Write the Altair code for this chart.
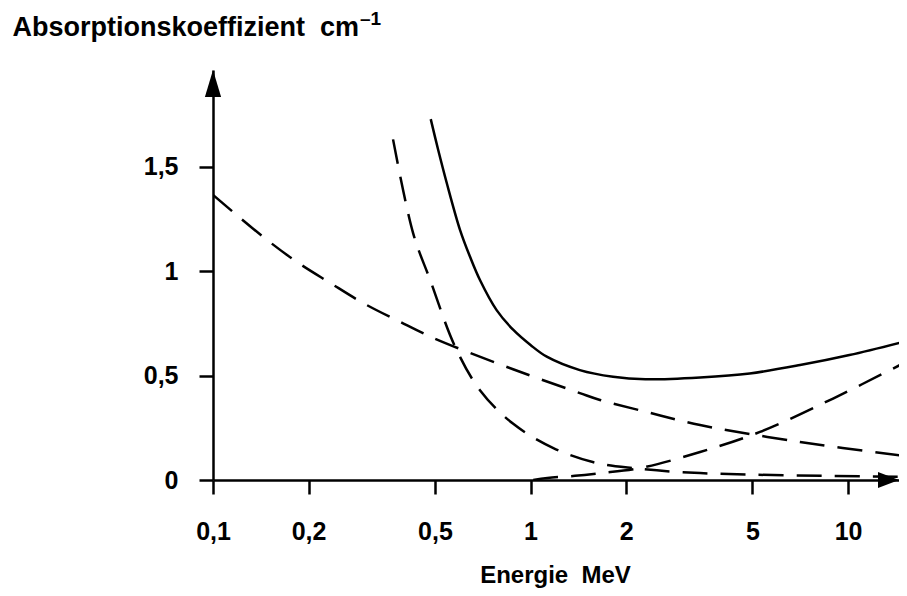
import altair as alt
import pandas as pd

# ---- tick values and labels ----
x_ticks = [0.1, 0.2, 0.5, 1, 2, 5, 10]
x_tick_labels = ["0,1", "0,2", "0,5", "1", "2", "5", "10"]
y_ticks = [0, 0.5, 1, 1.5]
y_tick_labels = ["0", "0,5", "1", "1,5"]

# ---- curves (energy in MeV, absorption coefficient in cm^-1) ----
compton_x = [0.1, 0.144, 0.184, 0.234, 0.297, 0.388, 0.494, 0.881, 1.43, 1.655, 2.33, 3.42, 7.06, 15.0]
compton_y = [1.364, 1.163, 1.043, 0.943, 0.847, 0.757, 0.68, 0.53, 0.416, 0.383, 0.325, 0.263, 0.182, 0.115]

photo_x = [0.369, 0.427, 0.483, 0.578, 0.693, 0.88, 1.18, 1.57, 2.1, 3.42, 15.0]
photo_y = [1.63, 1.18, 0.957, 0.64, 0.43, 0.27, 0.153, 0.086, 0.057, 0.033, 0.015]

pair_x = [1.02, 1.13, 1.38, 1.66, 2.21, 3.42, 5.28, 8.97, 15.0]
pair_y = [0.0, 0.01, 0.02, 0.033, 0.057, 0.134, 0.23, 0.39, 0.56]

total_x = [0.485, 0.512, 0.545, 0.600, 0.645, 0.693, 0.782, 0.883, 1.0, 1.125, 1.43, 1.82, 2.3, 3.42, 4.9, 7.06, 10.1, 15.0]
total_y = [1.727, 1.579, 1.42, 1.196, 1.068, 0.957, 0.813, 0.718, 0.646, 0.59, 0.526, 0.494, 0.482, 0.491, 0.51, 0.55, 0.598, 0.662]

X_MIN, X_MAX = 0.1, 14.47
Y_MIN, Y_MAX = 0.0, 1.962

FONT = "Liberation Sans"


def series(name, xs, ys):
    return pd.DataFrame({"x": xs, "y": ys, "series": name})


def label_expr(vals, labels):
    expr = "''"
    for v, l in reversed(list(zip(vals, labels))):
        expr = f"abs(datum.value - {v}) < 1e-6 ? '{l}' : ({expr})"
    return expr


x_enc = alt.X(
    "x:Q",
    scale=alt.Scale(type="log", domain=[X_MIN, X_MAX], nice=False),
    axis=alt.Axis(
        values=x_ticks,
        labelExpr=label_expr(x_ticks, x_tick_labels),
        grid=False,
        domainColor="black",
        domainWidth=2.5,
        tickColor="black",
        tickWidth=2.5,
        tickSize=14,
        labelPadding=25,
        labelFont=FONT,
        labelFontSize=25,
        labelFontWeight="bold",
        labelColor="black",
        labelFlush=False,
        labelOverlap=False,
        title="Energie\u00a0\u00a0MeV",
        titleFont=FONT,
        titleFontSize=24,
        titleFontWeight="bold",
        titleColor="black",
        titleX=342,
        titleY=102,
        titleAlign="center",
        titleBaseline="alphabetic",
    ),
)

y_enc = alt.Y(
    "y:Q",
    scale=alt.Scale(domain=[Y_MIN, Y_MAX], nice=False, zero=False),
    axis=alt.Axis(
        values=y_ticks,
        labelExpr=label_expr(y_ticks, y_tick_labels),
        grid=False,
        domainColor="black",
        domainWidth=2.5,
        tickColor="black",
        tickWidth=2.5,
        tickSize=14,
        labelPadding=21,
        labelFont=FONT,
        labelFontSize=25,
        labelFontWeight="bold",
        labelColor="black",
        labelFlush=False,
        labelOverlap=False,
        title="Absorptionskoeffizient\u00a0\u00a0cm",
        titleFont=FONT,
        titleFontSize=27,
        titleFontWeight="bold",
        titleColor="black",
        titleAngle=0,
        titleX=-201,
        titleY=-35,
        titleAlign="left",
        titleBaseline="alphabetic",
    ),
)

dash = [25, 13]

compton = alt.Chart(series("Compton", compton_x, compton_y)).mark_line(
    color="black", strokeWidth=2.5, strokeDash=dash, interpolate="catmull-rom", clip=True
).encode(x=x_enc, y=y_enc)

photo = alt.Chart(series("Photo", photo_x, photo_y)).mark_line(
    color="black", strokeWidth=2.5, strokeDash=dash, interpolate="catmull-rom", clip=True
).encode(x=x_enc, y=y_enc)

pair = alt.Chart(series("Paar", pair_x, pair_y)).mark_line(
    color="black", strokeWidth=2.5, strokeDash=dash, interpolate="catmull-rom", clip=True
).encode(x=x_enc, y=y_enc)

total = alt.Chart(series("Gesamt", total_x, total_y)).mark_line(
    color="black", strokeWidth=2.5, interpolate="catmull-rom", clip=True
).encode(x=x_enc, y=y_enc)

# arrowheads at the ends of the axes
y_arrow = alt.Chart(pd.DataFrame({"x": [X_MIN], "y": [Y_MAX]})).mark_point(
    shape="M0,0L0.6,2L-0.6,2Z", size=729, filled=True, color="black", opacity=1, strokeWidth=0
).encode(x=x_enc, y=y_enc)

x_arrow = alt.Chart(pd.DataFrame({"x": [X_MAX], "y": [Y_MIN]})).mark_point(
    shape="M0,0L-2,-0.76L-2,0.76Z", size=441, filled=True, color="black", opacity=1, strokeWidth=0
).encode(x=x_enc, y=y_enc)

# superscript of the unit
sup = alt.Chart(pd.DataFrame({"t": ["\u20131"]})).mark_text(
    font=FONT, fontSize=19, fontWeight="bold", color="black", align="left", baseline="alphabetic"
).encode(text="t:N", x=alt.value(147), y=alt.value(-45))

chart = alt.layer(compton, photo, pair, total, y_arrow, x_arrow, sup).properties(
    width=686,
    height=410,
    autosize=alt.AutoSizeParams(type="none"),
    padding={"left": 205, "top": 62, "right": 0, "bottom": 108},
    background="white",
).configure_view(stroke=None)

chart.save("out.html", embed_options={"renderer": "svg", "actions": False})
